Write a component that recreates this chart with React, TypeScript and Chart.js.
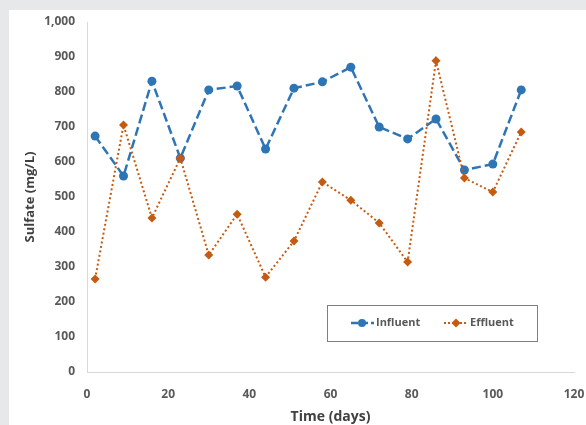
import React, { useEffect, useRef } from "react";
import { Chart, registerables } from "chart.js";

Chart.register(...registerables);

const days = [2, 9, 16, 23, 30, 37, 44, 51, 58, 65, 72, 79, 86, 93, 100, 107];
const influent = [674, 560, 831, 611, 806, 817, 637, 811, 829, 871, 700, 666, 723, 577, 594, 806];
const effluent = [266, 706, 440, 611, 334, 451, 271, 374, 543, 491, 426, 314, 889, 554, 514, 686];
const seriesNames = ["Influent", "Effluent"];
const xTitle = "Time (days)";
const yTitle = "Sulfate (mg/L)";

const BLUE = "#2e75b6";
const ORANGE = "#c55a11";
const FONT = "'Open Sans', 'Noto Sans', sans-serif";

const legendPlugin = {
  id: "boxLegend",
  afterDraw(chart: any) {
    const { ctx, chartArea } = chart;
    const x0 = chartArea.left + 240;
    const y0 = chartArea.top + 283;
    const w = 210;
    const h = 36;
    ctx.save();
    ctx.fillStyle = "#ffffff";
    ctx.fillRect(x0, y0, w, h);
    ctx.strokeStyle = "#7f7f7f";
    ctx.lineWidth = 1;
    ctx.strokeRect(x0 + 0.5, y0 + 0.5, w, h);
    const cy = y0 + h / 2;
    ctx.font = `bold 11px ${FONT}`;
    ctx.fillStyle = "#595959";
    ctx.textBaseline = "middle";
    // influent sample
    ctx.strokeStyle = BLUE;
    ctx.lineWidth = 2.5;
    ctx.setLineDash([7, 3]);
    ctx.beginPath();
    ctx.moveTo(x0 + 24, cy);
    ctx.lineTo(x0 + 47, cy);
    ctx.stroke();
    ctx.setLineDash([]);
    ctx.fillStyle = BLUE;
    ctx.beginPath();
    ctx.arc(x0 + 35, cy, 4, 0, Math.PI * 2);
    ctx.fill();
    ctx.fillStyle = "#595959";
    ctx.fillText(seriesNames[0], x0 + 49, cy);
    // effluent sample
    ctx.strokeStyle = ORANGE;
    ctx.lineWidth = 2;
    ctx.setLineDash([2, 2]);
    ctx.beginPath();
    ctx.moveTo(x0 + 117, cy);
    ctx.lineTo(x0 + 141, cy);
    ctx.stroke();
    ctx.setLineDash([]);
    ctx.fillStyle = ORANGE;
    ctx.beginPath();
    const dx = x0 + 129;
    ctx.moveTo(dx, cy - 4.5);
    ctx.lineTo(dx + 4.5, cy);
    ctx.lineTo(dx, cy + 4.5);
    ctx.lineTo(dx - 4.5, cy);
    ctx.closePath();
    ctx.fill();
    ctx.fillStyle = "#595959";
    ctx.fillText(seriesNames[1], x0 + 143, cy);
    ctx.restore();
  },
};

export default function App() {
  const ref = useRef<HTMLCanvasElement>(null);
  useEffect(() => {
    document.body.style.margin = "0";
    document.body.style.background = "#e7e8ea";
    const chart = new Chart(ref.current!, {
      type: "line",
      data: {
        datasets: [
          {
            label: seriesNames[0],
            data: days.map((d, i) => ({ x: d, y: influent[i] })),
            borderColor: BLUE,
            backgroundColor: BLUE,
            borderWidth: 2.5,
            borderDash: [9, 4],
            pointStyle: "circle",
            pointRadius: 4.5,
            pointBorderWidth: 0,
            tension: 0,
            order: 1,
          },
          {
            label: seriesNames[1],
            data: days.map((d, i) => ({ x: d, y: effluent[i] })),
            borderColor: ORANGE,
            backgroundColor: ORANGE,
            borderWidth: 2,
            borderDash: [2, 2.5],
            pointStyle: "rectRot",
            pointRadius: 4.5,
            pointBorderWidth: 0,
            tension: 0,
            order: 0,
          },
        ],
      },
      options: {
        animation: false,
        responsive: false,
        layout: { padding: { top: 12, right: 12, left: 0, bottom: 0 } },
        plugins: { legend: { display: false }, tooltip: { enabled: false } },
        scales: {
          x: {
            type: "linear",
            min: 0,
            max: 120,
            ticks: {
              stepSize: 20,
              color: "#595959",
              font: { family: FONT, size: 12, weight: "bold" },
              padding: 15,
            },
            grid: { display: false, drawTicks: false },
            border: { color: "#d9d9d9", width: 1 },
            title: {
              display: true,
              text: xTitle,
              color: "#404040",
              font: { family: FONT, size: 14, weight: "bold" },
              padding: { top: 0, bottom: 0 },
            },
            afterFit: (s: any) => {
              s.height = 53;
              s.paddingLeft = 0;
              s.paddingRight = 0;
            },
          },
          y: {
            min: 0,
            max: 1000,
            ticks: {
              stepSize: 100,
              color: "#595959",
              font: { family: FONT, size: 12, weight: "bold" },
              padding: 12,
              callback: (v: any) => Number(v).toLocaleString("en-US"),
            },
            grid: { display: false, drawTicks: false },
            border: { color: "#d9d9d9", width: 1 },
            title: {
              display: true,
              text: yTitle,
              color: "#404040",
              font: { family: FONT, size: 13, weight: "bold" },
              padding: { top: 13, bottom: 6 },
            },
            afterFit: (s: any) => {
              s.width = 78;
              s.paddingTop = 0;
              s.paddingBottom = 0;
            },
          },
        },
      },
      plugins: [legendPlugin],
    });
    return () => chart.destroy();
  }, []);
  return (
    <div style={{ paddingTop: 10, paddingLeft: 9 }}>
      <canvas ref={ref} width={577} height={415} style={{ display: "block", background: "#ffffff" }} />
    </div>
  );
}
